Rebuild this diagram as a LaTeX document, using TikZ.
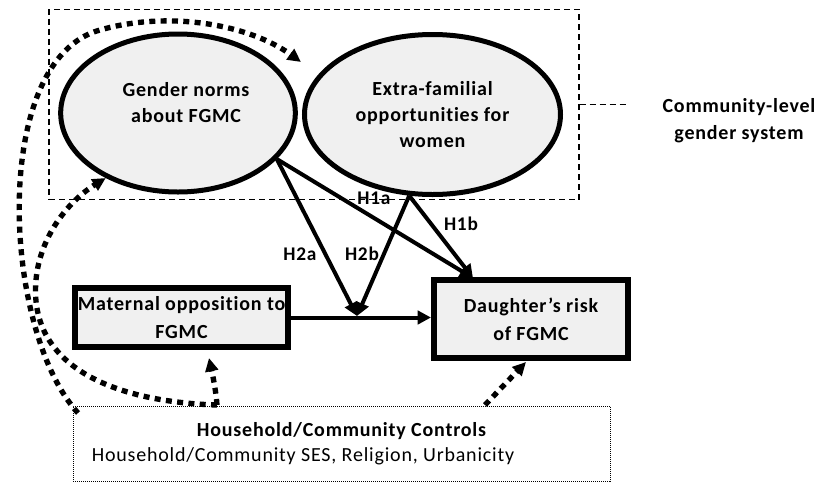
\documentclass[tikz,border=0pt]{standalone}
\usepackage{fontspec}
\setmainfont{Carlito}[Ligatures={NoCommon},LetterSpace=4]
\usetikzlibrary{arrows.meta,shapes.geometric}

\definecolor{lightfill}{HTML}{F0F0F0}

\begin{document}
\begin{tikzpicture}[x=0.75pt,y=0.75pt,yscale=-1,xscale=1,
  oval/.style={ellipse,draw,line width=3.75pt,fill=lightfill,align=center,inner sep=0pt,font=\bfseries\fontsize{15}{19.5}\selectfont},
  thickbox/.style={rectangle,draw,line width=4.5pt,fill=lightfill,align=center,inner sep=0pt,font=\bfseries\fontsize{15}{21}\selectfont},
  dashbox/.style={rectangle,draw,line width=0.9pt,dash pattern=on 4.5pt off 3pt},
  dotbox/.style={rectangle,draw,line width=0.75pt,dash pattern=on 0.75pt off 0.75pt},
  effect/.style={line width=3pt,-{Triangle[length=10pt,width=10pt]}},
  control/.style={line width=4pt,dash pattern=on 4.5pt off 4pt,-{Triangle[length=10pt,width=9.5pt]}},
  hyp/.style={font=\bfseries\fontsize{14.5}{16}\selectfont,inner sep=0.75pt}
]
\useasboundingbox (0,0) rectangle (819,483);

%Shape: Rectangle (community frame)
\draw (314,104.5) node [dashbox,minimum width=397.5pt,minimum height=143pt] (community) {};

%Shape: Ellipse
\draw (178,113) node [oval,minimum width=176pt,minimum height=118.5pt] (gender) {\hspace*{12pt}Gender norms\\\hspace*{12pt}about FGMC\\[-4pt]\mbox{}};
%Shape: Ellipse
\draw (432.5,114.5) node [oval,minimum width=192pt,minimum height=120pt] (extra) {Extra-familial\\opportunities for\\women};

%Shape: Rectangle
\draw (181.5,317.5) node [thickbox,minimum width=160pt,minimum height=44pt] (maternal) {Maternal opposition to\\FGMC};
%Shape: Rectangle
\draw (531,319) node [thickbox,minimum width=145.5pt,minimum height=58.5pt] (daughter) {Daughter’s risk\\of FGMC};

%Shape: Rectangle (controls)
\draw (341.5,443.5) node [dotbox,minimum width=402.75pt,minimum height=56.25pt] (ctrl) {};
% Text Node
\draw (341.5,431) node [font=\bfseries\fontsize{15}{18}\selectfont,inner sep=0.75pt] (ctrltitle) {Household/Community Controls};
% Text Node
\draw (303,456) node [font=\fontsize{15}{18}\selectfont,inner sep=0.75pt] (ctrllist) {Household/Community SES, Religion, Urbanicity};

% Text Node
\draw (739,121) node [align=center,font=\bfseries\fontsize{15}{20}\selectfont,inner sep=0.75pt] (commlabel) {Community-level\\gender system};

% free ends
\coordinate (commtip) at (627,104.5);
\coordinate (mid) at (357,316);
\coordinate (dtop) at (473,278);
\coordinate (ctrlA) at (78,413);
\coordinate (ctrlB) at (217,405);
\coordinate (ctrlC) at (485,405);
\coordinate (extratip) at (301,62);
\coordinate (materntip) at (209,358);
\coordinate (daughtip) at (526,362);

%Straight Lines
\draw [line width=0.9pt,dash pattern=on 4.5pt off 3pt] (community.east) -- (commtip);

%Straight Lines
\draw [effect] (gender.335) -- (mid);
\draw [effect] (gender.335) -- (dtop);
\draw [effect] (extra.254) -- (mid);
\draw [effect] (extra.254) -- (dtop);
\draw [effect] (maternal.east) -- (maternal.east -| daughter.west);

% Text Node
\draw (374,198) node [hyp] (h1a) {H1a};
\draw (461,224) node [hyp] (h1b) {H1b};
\draw (300,254) node [hyp] (h2a) {H2a};
\draw (362,254) node [hyp] (h2b) {H2b};

%Curve Lines
\draw [control] (ctrlA) .. controls (2,330) and (-10,60) .. (100,30) .. controls (170,10) and (250,25) .. (extratip);
\draw [control] (ctrlB) .. controls (120,402) and (28,370) .. (36,280) .. controls (40,235) and (70,200) .. (gender.222);
\draw [control] (ctrlB) .. controls (216,390) and (212,372) .. (materntip);
\draw [control] (ctrlC) -- (daughtip);

\end{tikzpicture}
\end{document}
